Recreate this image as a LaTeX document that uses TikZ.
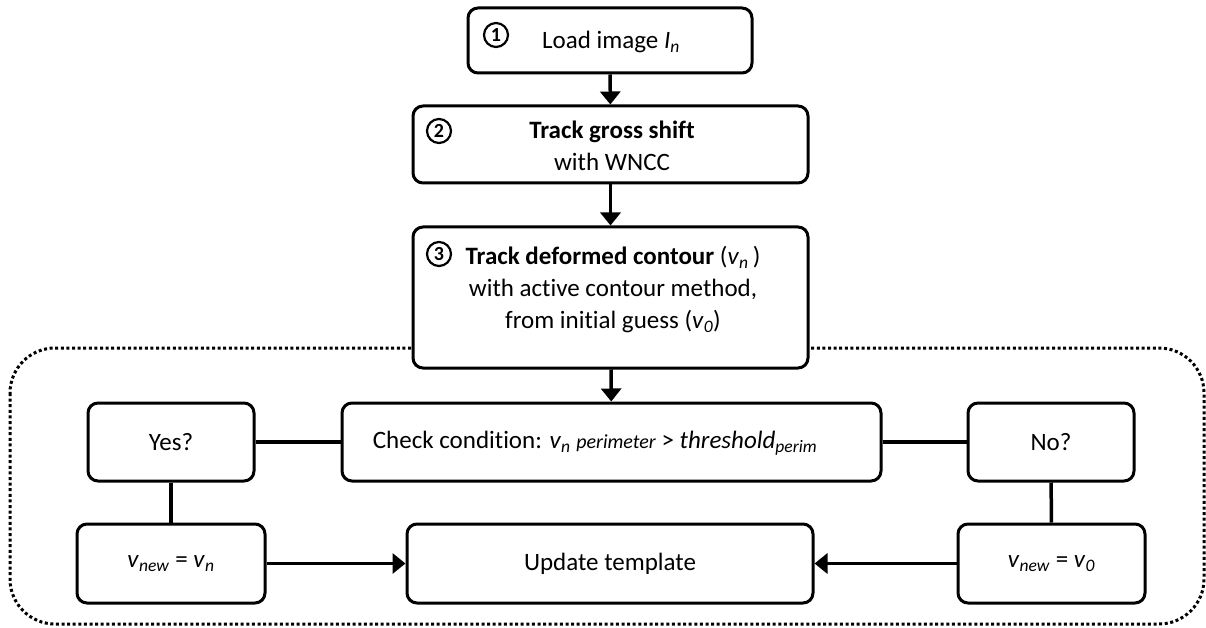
\documentclass[tikz,border=0pt]{standalone}
\usepackage{fontspec}
\setmainfont[Ligatures=NoCommon]{Carlito}
\usetikzlibrary{arrows.meta}
\tikzset{
  box/.style={draw, line width=3pt, rounded corners=10pt, fill=white, align=center,
    font=\fontsize{25}{32}\selectfont, inner sep=0pt},
  txt/.style={align=center, font=\fontsize{25}{32}\selectfont, inner sep=0pt},
  num/.style={draw, circle, line width=2.2pt, inner sep=0pt, minimum size=24pt,
    font=\fontsize{20}{20}\selectfont\bfseries},
  conn/.style={line width=3.5pt},
  arr/.style={line width=3.5pt, -{Triangle[length=13pt,width=20pt]}},
  group/.style={line width=3pt, dash pattern=on 3pt off 2.6pt, rounded corners=45pt}
}
\newcommand{\vv}[1]{\textit{v}\textsubscript{\textit{#1}}}
\begin{document}
\begin{tikzpicture}[x=1pt,y=-1pt]
\useasboundingbox (0,0) rectangle (1206,628);
% dotted group
\draw[group] (10,348) rectangle (1204,624);
% main boxes
\node[box, minimum width=284pt, minimum height=65pt] (b1) at (610,40.5) {};
\node[txt] (t1) at (611,42) {Load image \textit{I}\textsubscript{\textit{n}}};
\node[box, minimum width=395pt, minimum height=77pt] (b2) at (610.5,144.5) {};
\node[txt] (t2) at (612,146) {\textbf{Track gross shift}\\with WNCC};
\node[box, minimum width=395pt, minimum height=141pt] (b3) at (610.5,297.5) {};
\node[txt] (t3) at (613,290) {\textbf{Track deformed contour} (\vv{n}\,)\\with active contour method,\\from initial guess (\vv{0})};
\node[num] (n1) at (496,35) {1};
\node[num] (n2) at (439,131) {2};
\node[num] (n3) at (439,254) {3};
\node[box, minimum width=539pt, minimum height=78pt] (chk) at (611.5,442) {};
\node[txt] (tc) at (595,443) {Check condition: \textit{v}\textsubscript{\textit{n}} {\fontsize{20}{20}\selectfont\textit{perimeter}} \textgreater{} \textit{threshold}\textsubscript{\textit{perim}}};
\node[box, minimum width=166pt, minimum height=78pt] (yes) at (171,442) {Yes?};
\node[box, minimum width=166pt, minimum height=78pt] (no) at (1051,442) {No?};
\node[box, minimum width=188pt, minimum height=79pt] (vn) at (171,563.5) {\vv{new} = \vv{n}};
\node[box, minimum width=187pt, minimum height=79pt] (v0) at (1051.5,563.5) {\vv{new} = \vv{0}};
\node[box, minimum width=406pt, minimum height=79pt] (upd) at (610,563.5) {Update template};
% connectors
\draw[arr] (b1) -- (b2);
\draw[arr] (b2) -- (b3);
\draw[arr] (b3) -- (chk);
\draw[conn] (yes) -- (chk);
\draw[conn] (chk) -- (no);
\draw[conn] (yes) -- (vn);
\draw[conn] (no) -- (v0);
\draw[arr] (vn) -- (upd);
\draw[arr] (v0) -- (upd);
\end{tikzpicture}
\end{document}
